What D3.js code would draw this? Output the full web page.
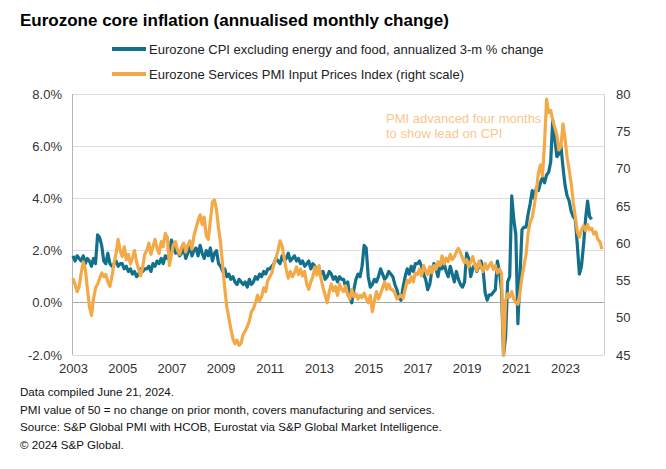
<!DOCTYPE html>
<html><head><meta charset="utf-8">
<script src="https://cdn.jsdelivr.net/npm/d3@7"></script>
<style>
body{margin:0;background:#fff;}
text{font-family:"Liberation Sans",Arial,sans-serif;}
</style>
</head><body>
<svg id="c" width="666" height="469"></svg>
<script>
// Monthly series starting January 2003
const startYear = 2003;
const cpiValues = [
 1.8,1.6,1.8,1.7,1.6,1.8,1.5,1.7,1.6,1.4,1.7,1.5,
 2.6,2.5,2.2,1.6,1.5,1.9,1.5,1.4,1.5,1.6,1.4,1.5,
 1.5,1.3,1.4,1.2,1.3,1.1,1.2,1.0,1.1,1.3,1.2,1.3,
 1.3,1.4,1.2,1.5,1.4,1.6,1.5,1.7,1.5,1.8,1.7,1.9,
 2.4,2.2,1.9,2.0,1.8,1.9,2.1,1.7,1.9,2.2,1.8,2.0,
 2.1,1.8,2.2,1.9,1.7,2.0,1.8,2.1,1.6,1.9,2.0,1.5,
 1.4,1.2,1.3,1.0,1.1,0.9,1.0,0.8,0.7,0.9,0.8,0.7,
 0.8,0.6,0.9,0.7,0.8,1.0,0.9,1.1,1.0,1.2,1.1,1.3,
 1.3,1.4,1.5,1.7,1.6,1.5,1.8,1.6,1.7,1.9,1.6,1.7,
 1.8,1.6,1.7,1.5,1.6,1.4,1.5,1.6,1.3,1.5,1.4,1.2,
 1.3,1.1,1.2,0.9,1.0,1.2,1.1,0.9,1.0,0.8,1.0,0.9,
 0.9,0.6,0.8,0.2,0.0,0.5,0.9,1.1,1.0,1.4,2.2,2.1,
 1.0,0.6,0.7,0.9,0.8,1.0,1.3,1.1,0.9,1.0,1.2,1.1,
 1.0,0.7,0.5,0.2,0.1,0.6,1.0,1.3,1.1,1.4,1.2,1.5,
 1.5,1.6,1.4,1.1,0.9,0.5,0.7,1.2,1.5,1.3,1.0,1.4,
 1.3,1.5,1.2,1.0,1.4,1.1,0.8,1.2,0.9,0.7,0.6,0.8,
 1.9,1.7,1.0,1.3,1.5,1.2,1.4,1.6,1.3,0.4,0.1,0.3,
 0.3,0.4,0.5,1.6,1.2,0.5,-2.0,-1.3,0.8,1.0,4.1,3.2,
 2.6,-0.8,1.0,2.8,2.9,2.9,3.4,3.8,4.3,4.0,4.4,4.3,
 4.6,4.8,4.6,4.9,5.0,5.4,7.0,6.3,5.6,5.7,6.0,5.2,
 4.5,4.1,3.9,3.5,3.3,3.2,2.2,1.1,1.4,2.2,3.2,3.9,
 3.3,3.2
];
const pmiValues = [
 55.3,54.5,53.5,54.2,56.0,57.5,56.5,54.0,51.5,50.3,52.5,54.0,
 54.5,55.3,56.0,55.5,55.8,54.8,54.2,55.5,57.3,58.6,60.5,59.0,
 58.2,59.5,57.8,58.5,57.2,58.0,59.0,57.5,56.5,55.6,56.8,58.5,
 59.0,60.0,58.5,59.5,60.5,59.3,58.6,60.2,59.5,61.3,60.8,57.0,
 58.5,59.8,60.2,59.0,58.5,59.5,60.0,58.8,59.7,60.3,59.2,61.0,
 62.0,63.0,63.8,62.5,63.5,61.0,60.5,63.0,65.5,65.8,64.5,62.0,
 60.0,57.0,54.0,51.5,50.0,48.5,47.2,46.5,47.0,46.3,46.6,47.8,
 48.2,48.8,49.5,50.8,51.2,52.0,53.0,52.3,52.8,54.0,53.5,55.0,
 55.5,56.0,57.2,58.0,59.0,60.3,59.6,58.0,56.5,55.3,56.2,55.5,
 56.0,56.8,55.8,56.5,55.6,56.2,54.5,53.8,54.8,55.5,56.8,55.7,
 57.0,55.2,54.0,53.0,52.0,53.5,54.5,53.6,54.2,53.0,54.5,53.8,
 53.5,54.3,53.0,52.5,53.8,52.8,53.2,52.5,53.0,52.7,53.3,52.6,
 52.0,53.0,50.8,52.2,53.5,52.5,53.2,54.0,54.8,53.8,54.5,53.8,
 53.7,53.3,52.5,52.8,53.0,52.6,53.8,55.0,54.7,55.5,54.8,56.0,
 55.8,56.5,55.6,57.0,56.3,55.8,56.8,56.0,57.0,56.5,57.5,57.0,
 58.3,57.2,58.0,57.5,58.5,57.8,58.2,58.8,59.3,58.7,58.0,57.4,
 57.8,56.8,57.5,58.2,57.0,56.3,57.6,56.8,56.2,57.3,56.5,57.0,
 57.4,56.5,57.0,56.0,56.5,56.0,45.0,52.3,53.2,52.8,53.5,52.5,
 52.0,51.8,53.3,55.5,57.0,58.5,61.4,62.8,63.5,65.0,67.0,69.4,
 70.5,69.0,73.4,79.3,77.5,77.8,76.5,75.5,74.5,72.5,73.0,76.0,
 74.0,71.5,69.8,68.0,65.5,63.5,61.5,60.8,61.8,62.3,61.7,62.5,
 61.8,62.0,61.2,61.5,60.5,60.2,59.2
];
const yearTicks = [2003,2005,2007,2009,2011,2013,2015,2017,2019,2021,2023];
const leftTicks = [-2,0,2,4,6,8];
const rightTicks = [45,50,55,60,65,70,75,80];
const seriesNames = ["Eurozone CPI excluding energy and food, annualized 3-m % change",
                     "Eurozone Services PMI Input Prices Index (right scale)"];
const titleText = "Eurozone core inflation (annualised monthly change)";
const annotationLines = ["PMI advanced four months","to show lead on CPI"];
const footnotes = ["Data compiled June 21, 2024.",
  "PMI value of 50 = no change on prior month, covers manufacturing and services.",
  "Source: S&P Global PMI with HCOB, Eurostat via S&P Global Market Intelligence.",
  "\u00A9 2024 S&P Global."];

const TEAL = "#12708d", ORANGE = "#f4a947";
const svg = d3.select("#c");
const M = {left:73, right:604, top:94, bottom:355};
const x = d3.scaleLinear().domain([0,259]).range([M.left, M.right]);
const yL = d3.scaleLinear().domain([-2,8]).range([M.bottom, M.top]);
const yR = d3.scaleLinear().domain([45,80]).range([M.bottom, M.top]);

// title
svg.append("text").attr("x",20).attr("y",26).attr("font-size",17).attr("font-weight","bold")
  .attr("fill","#000").text(titleText);

// legend
[TEAL, ORANGE].forEach((c,i)=>{
  const yy = 49 + i*25;
  svg.append("line").attr("x1",112).attr("x2",146).attr("y1",yy).attr("y2",yy)
    .attr("stroke",c).attr("stroke-width",4);
  svg.append("text").attr("x",149).attr("y",yy).attr("dy","0.35em").attr("font-size",13)
    .attr("fill","#222").text(seriesNames[i]);
});

// gridlines
svg.append("g").selectAll("line").data(leftTicks).join("line")
  .attr("x1",M.left).attr("x2",M.right)
  .attr("y1",d=>yL(d)).attr("y2",d=>yL(d))
  .attr("stroke",d=> d===0 ? "#a6a6a6" : "#dcdcdc").attr("stroke-width",1)
  .attr("shape-rendering","crispEdges");
// right border
svg.append("line").attr("x1",M.right).attr("x2",M.right).attr("y1",M.top).attr("y2",M.bottom)
  .attr("stroke","#d0d0d0").attr("shape-rendering","crispEdges");
// left axis line
svg.append("line").attr("x1",M.left-0.5).attr("x2",M.left-0.5).attr("y1",M.top).attr("y2",M.bottom)
  .attr("stroke","#b4b4b4");

// axes
const axL = svg.append("g").attr("transform",`translate(${M.left},0)`)
  .call(d3.axisLeft(yL).tickValues(leftTicks).tickFormat(d=>d.toFixed(1)+"%").tickSize(0).tickPadding(11));
const axR = svg.append("g").attr("transform",`translate(${M.right},0)`)
  .call(d3.axisRight(yR).tickValues(rightTicks).tickFormat(d3.format("d")).tickSize(0).tickPadding(12));
const axB = svg.append("g").attr("transform",`translate(0,${M.bottom})`)
  .call(d3.axisBottom(x).tickValues(yearTicks.map(y=>(y-startYear)*12)).tickFormat((d,i)=>yearTicks[i]).tickSize(0).tickPadding(9));
[axL,axR,axB].forEach(a=>{
  a.select(".domain").remove();
  a.selectAll("text").attr("font-size",13).attr("fill","#333").attr("font-family","Liberation Sans, Arial, sans-serif");
});

// lines
const lineL = d3.line().x((d,i)=>x(i)).y(d=>yL(d)).curve(d3.curveLinear);
const lineR = d3.line().x((d,i)=>x(i)).y(d=>yR(d)).curve(d3.curveLinear);
svg.append("path").datum(cpiValues).attr("d",lineL).attr("fill","none")
  .attr("stroke",TEAL).attr("stroke-width",3.2).attr("stroke-linejoin","round");
svg.append("path").datum(pmiValues).attr("d",lineR).attr("fill","none")
  .attr("stroke",ORANGE).attr("stroke-width",3.2).attr("stroke-linejoin","round");

// annotation
annotationLines.forEach((t,i)=>{
  svg.append("text").attr("x",386).attr("y",123+i*15).attr("font-size",13)
    .attr("fill","#f9c78c").text(t);
});

// footnotes
footnotes.forEach((t,i)=>{
  svg.append("text").attr("x",20).attr("y",396+i*17.6).attr("font-size",11.6)
    .attr("fill","#111").text(t);
});
</script>
</body></html>
